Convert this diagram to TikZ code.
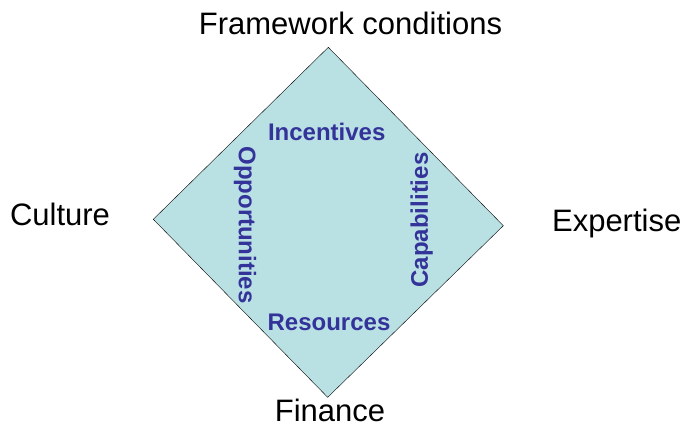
\documentclass[tikz,border=0pt]{standalone}
\usepackage{fontspec}
\setmainfont{Liberation Sans}
\definecolor{rhombfill}{RGB}{185,224,227}
\definecolor{innerblue}{RGB}{51,51,153}

\begin{document}
\begin{tikzpicture}[x=1pt,y=-1pt,
    outer/.style={font=\fontsize{31}{36}\selectfont, anchor=base},
    inner/.style={font=\fontsize{24}{28}\selectfont\bfseries, text=innerblue}]
    \useasboundingbox (0,0) rectangle (687,428);
    \coordinate (top) at (328.3,47.3);
    \coordinate (left) at (153.3,219.3);
    \coordinate (right) at (503.3,225.7);
    \coordinate (bottom) at (327.7,397.3);
    \draw[fill=rhombfill,thin] (top) -- (right) -- (bottom) -- (left) -- cycle;
    % outer labels
    \node[outer] (framework) at (350.5,35) {Framework conditions};
    \node[outer] (culture) at (60,225) {Culture};
    \node[outer] (expertise) at (616.7,231.7) {Expertise};
    \node[outer] (finance) at (330,421.7) {Finance};
    % inner labels
    \node[inner, anchor=base] (incentives) at (326.7,140.7) {Incentives};
    \node[inner, anchor=base] (resources) at (329,330) {Resources};
    \node[inner, rotate=-90] (opportunities) at (245,225) {Opportunities};
    \node[inner, rotate=90] (capabilities) at (421.7,220) {Capabilities};
\end{tikzpicture}
\end{document}
